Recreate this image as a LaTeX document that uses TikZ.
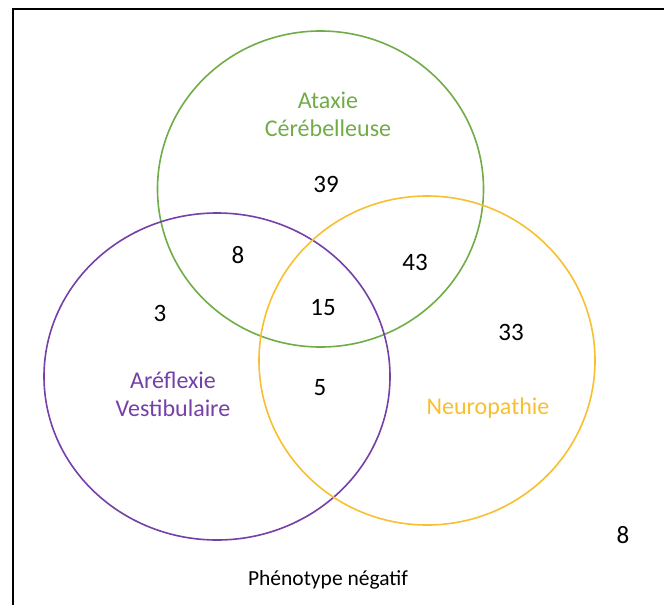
\documentclass[tikz,border=0pt]{standalone}
\usepackage{fontspec}
\setmainfont{Carlito}
\usetikzlibrary{shapes.geometric}
\definecolor{vgreen}{HTML}{70AD47}
\definecolor{vpurple}{HTML}{7540A8}
\definecolor{vyellow}{HTML}{F8C030}
\begin{document}
\begin{tikzpicture}[x=1pt,y=-1pt,
  setring/.style={ellipse,draw,line width=1.6pt,inner sep=0pt},
  num/.style={font=\fontsize{25}{30}\selectfont,text=black},
  lab/.style={font=\fontsize{24}{28}\selectfont,align=center}]
\useasboundingbox (0,0) rectangle (664,605);
\fill[white] (0,0) rectangle (664,605);
\coordinate (tl) at (12.5,9);
\coordinate (tr) at (664,9);
\coordinate (bl) at (12.5,605);
\draw[line width=2pt] (bl) -- (tl) -- (tr);
\node[setring,draw=vgreen,minimum width=326pt,minimum height=316pt] (green) at (320.5,189) {};
\node[setring,draw=vpurple,minimum width=346pt,minimum height=327pt] (purple) at (217,376.5) {};
\node[setring,draw=vyellow,minimum width=336pt,minimum height=329pt] (yellow) at (427,360.5) {};
\node[lab,text=vgreen] (lgreen) at (328,114) {Ataxie\\Cérébelleuse};
\node[lab,text=vpurple] (lpurple) at (173,394) {Aréflexie\\Vestibulaire};
\node[lab,text=vyellow] (lyellow) at (488,408) {Neuropathie};
\node[num] (n39) at (326,184) {39};
\node[num] (n8a) at (238,255) {8};
\node[num] (n43) at (415,262) {43};
\node[num] (n3) at (160,313) {3};
\node[num] (n15) at (323,308) {15};
\node[num] (n33) at (511,332) {33};
\node[num] (n5) at (320,388) {5};
\node[num] (n8b) at (623,535) {8};
\node[font=\fontsize{21.5}{25}\selectfont] (neg) at (328,580) {Phénotype négatif};
\end{tikzpicture}
\end{document}
